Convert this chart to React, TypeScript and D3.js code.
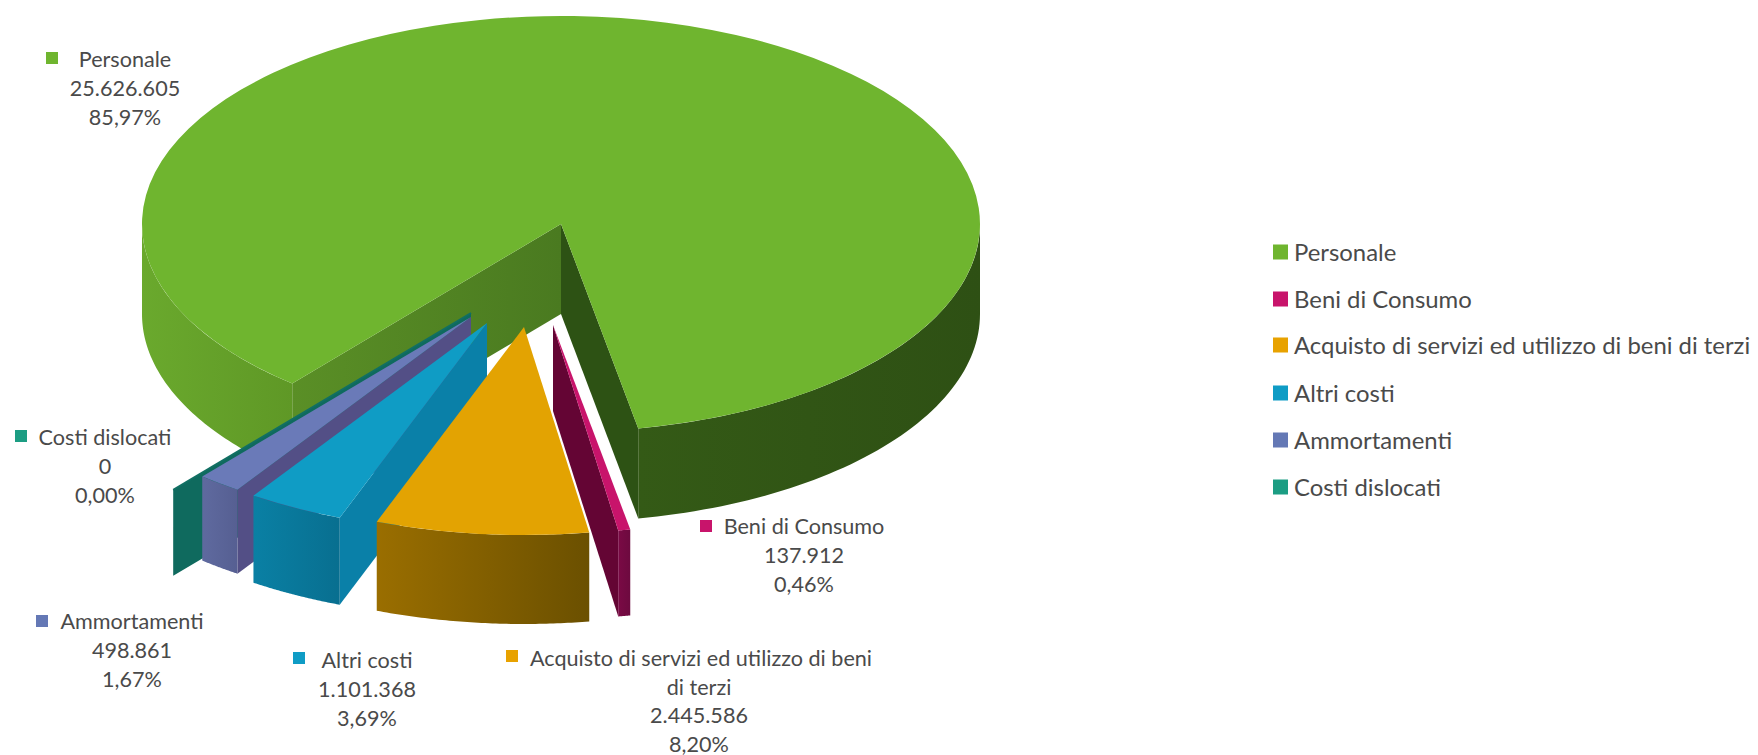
import * as d3 from "d3";

// Voci di costo, in ordine di rotazione orario
const categories = ["Personale", "Beni di Consumo", "Acquisto di servizi ed utilizzo di beni di terzi", "Altri costi", "Ammortamenti", "Costi dislocati"];
const amounts = [25626605, 137912, 2445586, 1101368, 498861, 0];
const amountLabels = ["25.626.605", "137.912", "2.445.586", "1.101.368", "498.861", "0"];
const percentLabels = ["85,97%", "0,46%", "8,20%", "3,69%", "1,67%", "0,00%"];

const topColors = ["#6fb52f", "#c8146b", "#e3a302", "#0f9cc5", "#6a7ab8", "#116f63"];
const swatchColors = ["#6fb52f", "#c8146b", "#e8a200", "#0f9cc5", "#6478b5", "#1c9d83"];
const startWallColors = ["url(#wall-left)", "#6d0a3f", "#9a6e00", "#0a80a8", "#534f86", "#0f6a5e"];
const endWallColors = ["#2d5214", "#640534", "#7a5a00", "#0a7ea3", "#5a6499", "#0f6a5e"];
const rimStops = [
  ["#345a16", "#2e5014"],
  ["#7a0a45", "#6d0a3f"],
  ["#9a6e00", "#6b5000"],
  ["#0a80a4", "#086f90"],
  ["#5f6a9f", "#565f92"],
  ["#0f6a5e", "#0f6a5e"],
];

// Centro di ogni spicchio sul piano superiore e spessore del solido
const apexX = [561, 553, 524, 487, 471, 471];
const apexY = [224, 325, 327, 323, 317, 313];
const depths = [90, 86, 89, 87, 84, 86];
const radiusFactors = [1, 1, 1, 1, 1, 1.108];

const RX = 419;
const RY = 208;
const FLATTEN = RY / RX;
const deg = Math.PI / 180;

const pieAngles = d3.pie<number>().sort(null).startAngle(219.9 * deg).endAngle((219.9 + 360) * deg)(amounts);
const drawOrder = [0, 5, 4, 3, 2, 1];

type Pt = [number, number];
const toPath = d3.line<Pt>();

const project = (i: number, theta: number, drop = 0): Pt => {
  const r = RX * radiusFactors[i];
  return [apexX[i] + r * Math.sin(theta), apexY[i] - r * FLATTEN * Math.cos(theta) + drop];
};

const wallPath = (i: number, theta: number) => {
  const rim = project(i, theta);
  const apex: Pt = [apexX[i], apexY[i]];
  const d = depths[i];
  return toPath([apex, rim, [rim[0], rim[1] + d], [apex[0], apex[1] + d]]) + "Z";
};

// Porzione di bordo esterno rivolta verso chi guarda (da 90 a 270 gradi)
const rimPath = (i: number, a: number, b: number) => {
  const lo = 90 * deg;
  const hi = 270 * deg;
  const segments: string[] = [];
  for (const turn of [0, 2 * Math.PI]) {
    const from = Math.max(a, lo + turn);
    const to = Math.min(b, hi + turn);
    if (to <= from) continue;
    const ts = d3.range(0, 61).map((k) => from + ((to - from) * k) / 60);
    const upper = ts.map((t) => project(i, t));
    const lower = ts.map((t) => project(i, t, depths[i])).reverse();
    segments.push((toPath([...upper, ...lower]) as string) + "Z");
  }
  return segments.join("");
};

const sliceArc = d3.arc<unknown, d3.PieArcDatum<number>>().innerRadius(0);

const labelFont = "Lato, 'Open Sans', sans-serif";
const textColor = "#4a4a4a";
const SWATCH_LEGEND = 15;
const SWATCH_LABEL = 12;

const legendX = 1273;
const legendY = [252, 299, 345, 393, 440, 487];
const LEGEND_TEXT_NUDGE = -1;

// Etichette dei dati: quadratino, centro del testo e righe
const labelCenterX = [125, 804, 699, 367, 132, 105];
const labelFirstY = [59, 526, 658, 660, 621, 437];
const labelSwatchX = [52, 706, 512, 299, 42, 21];
const labelSwatchY = [58, 526, 656, 658, 621, 436];
const LINE = 29;

const labelLines = categories.map((c, i) =>
  i === 2 ? ["Acquisto di servizi ed utilizzo di beni", "di terzi", amountLabels[i], percentLabels[i]] : [c, amountLabels[i], percentLabels[i]]
);

export default function App() {
  return (
    <svg width={1758} height={755} viewBox="0 0 1758 755" style={{ position: "absolute", left: 0, top: 0, display: "block", background: "#fff" }}>
      <defs>
        {rimStops.map((s, i) => (
          <linearGradient key={i} id={`rim-${i}`} x1="0" y1="0" x2="1" y2="0">
            <stop offset="0" stopColor={s[0]} />
            <stop offset="1" stopColor={s[1]} />
          </linearGradient>
        ))}
        <linearGradient id="rim-left" x1="0" y1="0" x2="1" y2="0">
          <stop offset="0" stopColor="#6aa92d" />
          <stop offset="1" stopColor="#5f9826" />
        </linearGradient>
        <linearGradient id="wall-left" x1="0" y1="0" x2="1" y2="0">
          <stop offset="0" stopColor="#5a8f26" />
          <stop offset="1" stopColor="#4a7a20" />
        </linearGradient>
      </defs>

      {drawOrder.map((i) => {
        const a = pieAngles[i].startAngle;
        const b = pieAngles[i].endAngle;
        const r = RX * radiusFactors[i];
        const topFace = sliceArc({ ...pieAngles[i], outerRadius: r } as never) as string;
        const isMain = i === 0;
        return (
          <g key={i}>
            {/* pareti radiali visibili */}
            {(isMain || i >= 3) && <path d={wallPath(i, a)} fill={startWallColors[i]} />}
            {(isMain || i === 1) && <path d={wallPath(i, b)} fill={endWallColors[i]} />}
            {/* bordo esterno */}
            {isMain ? (
              <>
                <path d={rimPath(i, 90 * deg + 2 * Math.PI, b)} fill={`url(#rim-${i})`} />
                <path d={rimPath(i, a, 270 * deg)} fill="url(#rim-left)" />
              </>
            ) : (
              <path d={rimPath(i, a, b)} fill={`url(#rim-${i})`} />
            )}
            {/* faccia superiore */}
            {b > a ? (
              <path d={topFace} transform={`translate(${apexX[i]},${apexY[i]}) scale(1,${FLATTEN})`} fill={topColors[i]} />
            ) : (
              <path d={toPath([[apexX[i], apexY[i]], project(i, a)]) as string} stroke={topColors[i]} strokeWidth={2} fill="none" />
            )}
          </g>
        );
      })}

      {/* etichette dei dati */}
      <g fontFamily={labelFont} fontSize={21.6} fill={textColor} textAnchor="middle" dominantBaseline="central">
        {labelLines.map((lines, i) => (
          <g key={i}>
            <rect
              x={labelSwatchX[i] - SWATCH_LABEL / 2}
              y={labelSwatchY[i] - SWATCH_LABEL / 2}
              width={SWATCH_LABEL}
              height={SWATCH_LABEL}
              fill={swatchColors[i]}
            />
            {lines.map((t, k) => (
              <text key={k} x={k === 0 ? labelCenterX[i] + (i === 2 ? 2 : 0) : labelCenterX[i]} y={labelFirstY[i] + k * (i === 2 ? 28.5 : LINE)}>
                {t}
              </text>
            ))}
          </g>
        ))}
      </g>

      {/* legenda */}
      <g fontFamily={labelFont} fontSize={23.9} fill={textColor} dominantBaseline="central">
        {categories.map((c, i) => (
          <g key={c}>
            <rect x={legendX} y={legendY[i] - SWATCH_LEGEND / 2} width={SWATCH_LEGEND} height={SWATCH_LEGEND} fill={swatchColors[i]} />
            <text x={legendX + 21} y={legendY[i] + LEGEND_TEXT_NUDGE}>{c}</text>
          </g>
        ))}
      </g>
    </svg>
  );
}
